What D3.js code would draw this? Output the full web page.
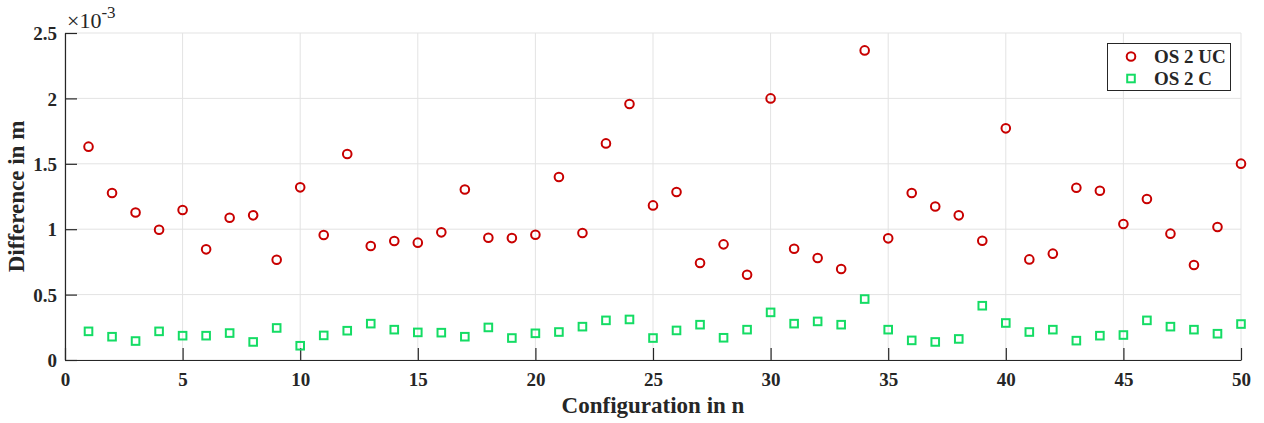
<!DOCTYPE html>
<meta charset="utf-8">
<head>
<style>
body { margin: 0; background: #fff; }
svg text { font-family: "Liberation Serif", "Times New Roman", Times, serif; font-weight: bold; fill: #262626; }
.grid line { stroke: #e3e3e3; stroke-width: 1; }
.axis path, .axis line { stroke: #262626; stroke-width: 1.2; }
</style>
</head>
<body>
<svg width="1264" height="423"></svg>
<script src="https://d3js.org/d3.v7.min.js"></script>
<script>

// configuration number
var config = d3.range(1, 51);

// OS 2 UC, values in 1e-3 m
var os2UC = [1.631, 1.277, 1.128, 0.996, 1.147, 0.846, 1.088, 1.106, 0.767, 1.320,
             0.956, 1.575, 0.872, 0.910, 0.897, 0.976, 1.304, 0.935, 0.932, 0.958,
             1.399, 0.971, 1.656, 1.957, 1.182, 1.284, 0.742, 0.884, 0.652, 2.000,
             0.851, 0.780, 0.696, 2.367, 0.930, 1.277, 1.174, 1.106, 0.912, 1.771,
             0.769, 0.813, 1.317, 1.294, 1.040, 1.231, 0.966, 0.726, 1.017, 1.501];

// OS 2 C, values in 1e-3 m
var os2C = [0.219, 0.178, 0.145, 0.219, 0.186, 0.186, 0.206, 0.138, 0.245, 0.109,
            0.188, 0.224, 0.278, 0.232, 0.211, 0.209, 0.178, 0.249, 0.168, 0.204,
            0.214, 0.255, 0.303, 0.310, 0.168, 0.226, 0.270, 0.170, 0.232, 0.364,
            0.278, 0.295, 0.270, 0.466, 0.232, 0.150, 0.138, 0.161, 0.415, 0.283,
            0.214, 0.232, 0.148, 0.186, 0.191, 0.303, 0.255, 0.232, 0.201, 0.275];

var xTicks = [0, 5, 10, 15, 20, 25, 30, 35, 40, 45, 50];
var yTicks = [0, 0.5, 1, 1.5, 2, 2.5];
var yTickLabels = ["0", "0.5", "1", "1.5", "2", "2.5"];

var svg = d3.select("svg"),
    pLeft = 65, pRight = 1241, pTop = 33, pBottom = 360;

var x = d3.scaleLinear().domain([0, 50]).range([pLeft, pRight]);
var y = d3.scaleLinear().domain([0, 2.5]).range([pBottom, pTop]);

// grid
var grid = svg.append("g").attr("class", "grid");
grid.selectAll(".gx").data(xTicks).enter().append("line")
    .attr("x1", d => x(d)).attr("x2", d => x(d))
    .attr("y1", pTop).attr("y2", pBottom);
grid.selectAll(".gy").data(yTicks).enter().append("line")
    .attr("x1", pLeft).attr("x2", pRight)
    .attr("y1", d => y(d)).attr("y2", d => y(d));

// axes, ticks point inward
var xAxis = svg.append("g").attr("class", "axis")
    .attr("transform", "translate(0," + pBottom + ")")
    .call(d3.axisBottom(x).tickValues(xTicks).tickSizeInner(-12).tickSizeOuter(0));
var yAxis = svg.append("g").attr("class", "axis")
    .attr("transform", "translate(" + pLeft + ",0)")
    .call(d3.axisLeft(y).tickValues(yTicks).tickFormat((d, i) => yTickLabels[i])
          .tickSizeInner(-12).tickSizeOuter(0));

svg.selectAll(".axis text")
    .attr("font-family", null)
    .attr("font-size", null)
    .style("font-size", "19px")
    .attr("fill", "#262626");
yAxis.selectAll("text").attr("x", -8).attr("dy", "0.35em");
xAxis.selectAll("text").attr("y", 13);

// exponent
var ex = svg.append("text").attr("x", 67).attr("y", 28).style("font-size", "22px").style("font-weight", "normal");
ex.append("tspan").text("\u00d710");
ex.append("tspan").attr("dy", -10).style("font-size", "17px").text("-3");

// axis titles
svg.append("text")
    .attr("x", (pLeft + pRight) / 2).attr("y", 413)
    .attr("text-anchor", "middle")
    .style("font-size", "23px")
    .text("Configuration in n");
svg.append("text")
    .attr("transform", "translate(24," + ((pTop + pBottom) / 2) + ") rotate(-90)")
    .attr("text-anchor", "middle")
    .style("font-size", "23px")
    .text("Difference in m");

// markers
var red = "#c80000", green = "#14dc64";

svg.append("g").selectAll("rect").data(config).enter().append("rect")
    .attr("x", (d, i) => x(d) - 3.8)
    .attr("y", (d, i) => y(os2C[i]) - 3.8)
    .attr("width", 7.6).attr("height", 7.6)
    .attr("fill", "none").attr("stroke", green).attr("stroke-width", 2);

svg.append("g").selectAll("circle").data(config).enter().append("circle")
    .attr("cx", d => x(d))
    .attr("cy", (d, i) => y(os2UC[i]))
    .attr("r", 4.3)
    .attr("fill", "none").attr("stroke", red).attr("stroke-width", 2);

// legend
var lg = svg.append("g");
lg.append("rect").attr("x", 1107.5).attr("y", 43.5).attr("width", 123).attr("height", 47)
    .attr("fill", "#fff").attr("stroke", "#262626").attr("stroke-width", 1);
lg.append("circle").attr("cx", 1131).attr("cy", 56.5).attr("r", 4.3)
    .attr("fill", "none").attr("stroke", red).attr("stroke-width", 2);
lg.append("rect").attr("x", 1131 - 3.8).attr("y", 78.5 - 3.8).attr("width", 7.6).attr("height", 7.6)
    .attr("fill", "none").attr("stroke", green).attr("stroke-width", 2);
lg.append("text").attr("x", 1154).attr("y", 62.5).style("font-size", "19px").text("OS 2 UC");
lg.append("text").attr("x", 1154).attr("y", 84.5).style("font-size", "19px").text("OS 2 C");

</script>
</body>
</html>
